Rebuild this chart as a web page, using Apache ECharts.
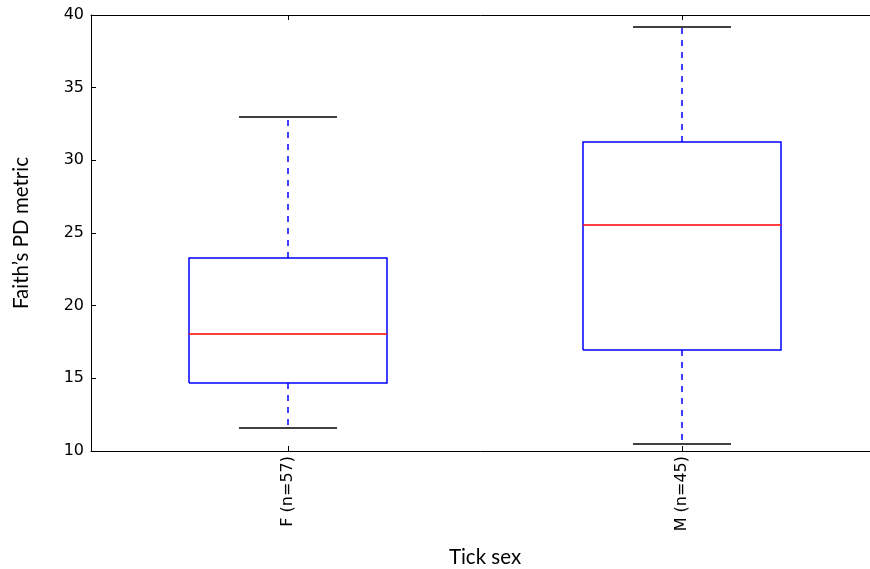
<!DOCTYPE html>
<html>
<head>
<meta charset="utf-8">
<script src="https://cdn.jsdelivr.net/npm/echarts@6/dist/echarts.min.js"></script>
<style>html,body{margin:0;padding:0;background:#fff;}#c{width:870px;height:569px;}</style>
</head>
<body>
<div id="c"></div>
<script>
var categories = ['F (n=57)', 'M (n=45)'];
var lowWhisker = [11.58, 10.48];
var q1 = [14.68, 16.97];
var median = [18.05, 25.55];
var q3 = [23.3, 31.27];
var highWhisker = [32.98, 39.17];
var yTicks = [10, 15, 20, 25, 30, 35, 40];

var chart = echarts.init(document.getElementById('c'), null, {renderer: 'canvas'});
var data = categories.map(function (c, i) {
  return [i, lowWhisker[i], q1[i], median[i], q3[i], highWhisker[i]];
});

function r(v) { return Math.round(v); }
var LW = 1.5;

function renderItem(params, api) {
  var idx = api.value(0);
  var band = api.size([1, 0])[0];
  var pLow = api.coord([idx, api.value(1)]);
  var pQ1 = api.coord([idx, api.value(2)]);
  var pMed = api.coord([idx, api.value(3)]);
  var pQ3 = api.coord([idx, api.value(4)]);
  var pHigh = api.coord([idx, api.value(5)]);
  var x = Math.round(pMed[0]);
  var bw = Math.round(band * 0.25);
  var cw = Math.round(band * 0.125);
  var xl = x - bw, xr = x + bw;
  return {
    type: 'group',
    children: [
      {type: 'line', silent: true, shape: {x1: x, y1: r(pQ1[1]), x2: x, y2: r(pLow[1])},
        style: {stroke: 'rgb(0,0,255)', fill: null, lineWidth: LW, lineDash: [6, 6]}},
      {type: 'line', silent: true, shape: {x1: x, y1: r(pQ3[1]), x2: x, y2: r(pHigh[1])},
        style: {stroke: 'rgb(0,0,255)', fill: null, lineWidth: LW, lineDash: [6, 6]}},
      {type: 'line', silent: true, shape: {x1: x - cw, y1: r(pLow[1]), x2: x + cw, y2: r(pLow[1])},
        style: {stroke: 'rgb(0,0,0)', fill: null, lineWidth: LW}},
      {type: 'line', silent: true, shape: {x1: x - cw, y1: r(pHigh[1]), x2: x + cw, y2: r(pHigh[1])},
        style: {stroke: 'rgb(0,0,0)', fill: null, lineWidth: LW}},
      {type: 'polyline', silent: true,
        shape: {points: [[xl, r(pQ1[1])], [xr, r(pQ1[1])], [xr, r(pQ3[1])], [xl, r(pQ3[1])], [xl, r(pQ1[1])]]},
        style: {stroke: 'rgb(0,0,255)', fill: null, lineWidth: LW, lineJoin: 'miter'}},
      {type: 'line', silent: true, shape: {x1: xl, y1: r(pMed[1]), x2: xr, y2: r(pMed[1])},
        style: {stroke: 'rgb(255,0,0)', fill: null, lineWidth: LW}}
    ]
  };
}

var axisLineStyle = {color: '#000000', width: 1};
chart.setOption({
  animation: false,
  backgroundColor: '#ffffff',
  grid: {left: 91, top: 15, width: 788, height: 436, containLabel: false, outerBoundsMode: 'none'},
  xAxis: [{
    type: 'category',
    data: categories,
    position: 'bottom',
    boundaryGap: true,
    axisLine: {show: true, lineStyle: axisLineStyle},
    axisTick: {show: true, inside: true, alignWithLabel: true, length: 5, lineStyle: {color: '#000'}},
    axisLabel: {rotate: 90, fontFamily: 'DejaVu Sans', fontSize: 16, color: '#000', margin: 5},
    splitLine: {show: false},
    name: 'Tick sex',
    nameLocation: 'middle',
    nameGap: 96,
    nameTextStyle: {fontFamily: 'Lato', fontSize: 20.5, color: '#000'}
  }, {
    type: 'category',
    data: categories,
    position: 'top',
    boundaryGap: true,
    axisLine: {show: true, lineStyle: axisLineStyle},
    axisTick: {show: true, inside: true, alignWithLabel: true, length: 5, lineStyle: {color: '#000'}},
    axisLabel: {show: false},
    splitLine: {show: false}
  }],
  yAxis: [{
    type: 'value',
    min: yTicks[0],
    max: yTicks[yTicks.length - 1],
    interval: 5,
    axisLine: {show: true, lineStyle: axisLineStyle},
    axisTick: {show: true, inside: true, length: 5, lineStyle: {color: '#000'}},
    axisLabel: {fontFamily: 'DejaVu Sans', fontSize: 16, color: '#000', margin: 7},
    splitLine: {show: false},
    name: 'Faith\u2019s PD metric',
    nameLocation: 'middle',
    nameGap: 59,
    nameRotate: 90,
    nameTextStyle: {fontFamily: 'Lato', fontSize: 20.5, color: '#000'}
  }],
  series: [{
    type: 'custom',
    renderItem: renderItem,
    encode: {x: 0, y: [1, 2, 3, 4, 5]},
    data: data,
    clip: false,
    animation: false,
    emphasis: {disabled: true},
    select: {disabled: true}
  }]
});
</script>
</body>
</html>
